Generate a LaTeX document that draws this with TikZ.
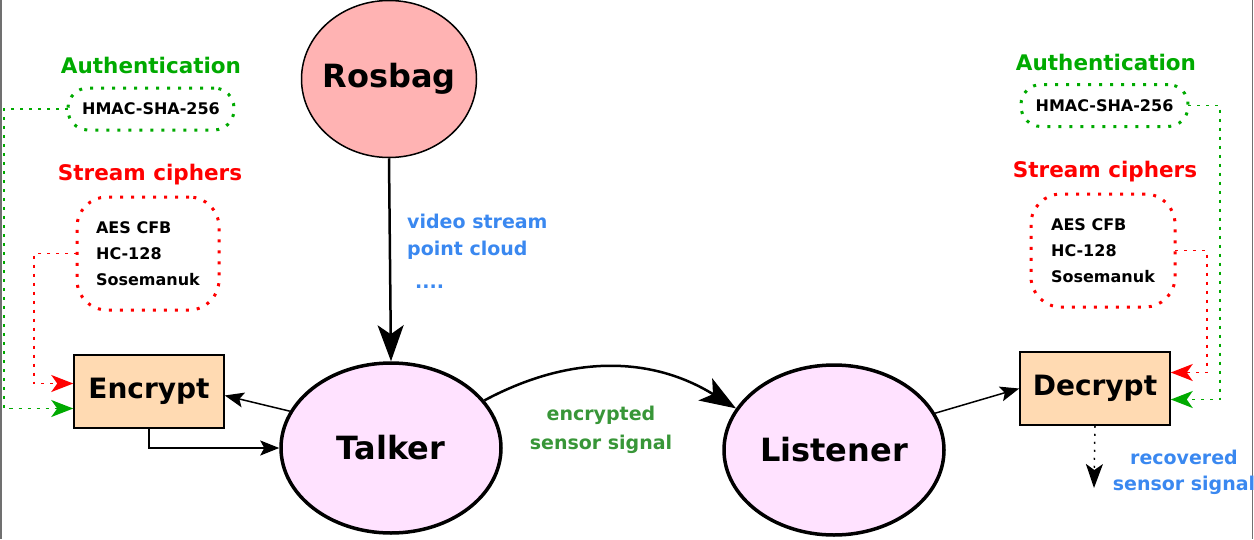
\documentclass[tikz,border=0pt]{standalone}
\usepackage{fontspec}
\setmainfont{DejaVu Sans}
\usetikzlibrary{calc,arrows.meta,shapes.geometric}

\definecolor{authgreen}{RGB}{0,170,0}
\definecolor{cipherred}{RGB}{255,0,0}
\definecolor{infoblue}{RGB}{58,136,240}
\definecolor{signalgreen}{RGB}{56,150,56}
\definecolor{bagpink}{RGB}{255,179,179}
\definecolor{nodepink}{RGB}{255,226,255}
\definecolor{boxpeach}{RGB}{255,218,178}
\definecolor{framegray}{RGB}{112,112,112}

\tikzset{
  rosnode/.style={ellipse,draw,line width=3.5pt,fill=nodepink,inner sep=0pt,
    minimum width=220pt,minimum height=170pt,font=\fontsize{32}{37}\selectfont\bfseries},
  cryptbox/.style={rectangle,draw,line width=1.5pt,fill=boxpeach,
    minimum width=150pt,minimum height=73pt,font=\fontsize{28}{32}\selectfont\bfseries},
  grouptitle/.style={font=\fontsize{21.5}{25}\selectfont\bfseries},
  dotbox/.style={rectangle,draw,line width=3pt,dash pattern=on 3pt off 8pt,outer sep=0pt,
    font=\fontsize{16}{19}\selectfont\bfseries},
  cipherbox/.style={dotbox,draw=cipherred,rounded corners=30pt,align=left,
    minimum height=113pt,font=\fontsize{16}{26}\selectfont\bfseries},
  authbox/.style={dotbox,draw=authgreen,rounded corners=20pt,minimum height=42pt},
  infotext/.style={text=infoblue,font=\fontsize{19}{29}\selectfont\bfseries},
  keyline/.style={line width=1.5pt,dash pattern=on 3pt off 6pt,
    -{Stealth[length=22pt,width=17pt,inset=6pt]}},
  thinarrow/.style={line width=1.5pt,-{Stealth[length=19pt,width=15pt,inset=4pt]}},
  thickarrow/.style={line width=2.5pt,-{Stealth[length=36pt,width=26pt,inset=9pt]}}
}

\begin{document}
\begin{tikzpicture}[x=1pt,y=1pt]
  \useasboundingbox (0,0) rectangle (1254,-539);
  \draw[framegray,line width=1.5pt] (0.75,0) -- (0.75,-539);
  \draw[framegray,line width=1.5pt] (1252.5,0) -- (1252.5,-539);

  % ROS nodes
  \node[rosnode,fill=bagpink,line width=1.5pt,inner xsep=-12pt,minimum width=175pt,minimum height=157pt] (rosbag) at (389,-79) {Rosbag};
  \node[rosnode] (talker) at (391,-448) {Talker};
  \node[rosnode] (listener) at (834,-450) {Listener};

  % crypto boxes
  \node[cryptbox] (encrypt) at (149,-391.5) {Encrypt};
  \node[cryptbox] (decrypt) at (1095,-388.5) {Decrypt};

  % left side
  \node[grouptitle,text=authgreen] (authL) at (151,-65) {Authentication};
  \node[authbox,minimum width=166pt] (hmacL) at (151,-109) {HMAC-SHA-256};
  \node[grouptitle,text=cipherred] (streamL) at (150,-175) {Stream ciphers};
  \node[cipherbox,minimum width=142pt] (ciphL) at (148,-253.5) {AES CFB\\HC-128\\Sosemanuk};

  % right side
  \node[grouptitle,text=authgreen] (authR) at (1106,-62) {Authentication};
  \node[authbox,minimum width=167pt] (hmacR) at (1104.5,-105.5) {HMAC-SHA-256};
  \node[grouptitle,text=cipherred] (streamR) at (1105,-172) {Stream ciphers};
  \node[cipherbox,minimum width=144pt] (ciphR) at (1103,-250.5) {AES CFB\\HC-128\\Sosemanuk};

  % labels
  \node[infotext,anchor=west,inner sep=0pt] (video) at (407,-221) {video stream};
  \node[infotext,anchor=west,inner sep=0pt] (cloud) at (407,-250) {point cloud};
  \node[infotext,anchor=west,inner sep=0pt] (more) at (415,-287) {....};
  \node[infotext,text=signalgreen,align=center] (signal) at (601,-429.5) {encrypted\\sensor signal};
  \node[infotext,align=center,font=\fontsize{19}{26}\selectfont\bfseries] (recovered) at (1184,-472) {recovered\\sensor signal};
  \coordinate (output) at (1094,-488);

  % data flow
  \draw[thickarrow] (rosbag.south) -- (talker.north);
  \draw[thickarrow] (talker.27) to[bend left=30] (listener.157);
  \draw[thinarrow] (talker.160) -- (encrypt.-3);
  \draw[thinarrow] (encrypt.south) |- (talker.west);
  \draw[thinarrow] (listener.20) -- (decrypt.west);
  \draw[line width=1.5pt,dash pattern=on 2pt off 6pt,-{Stealth[length=24pt,width=17pt,inset=6pt]}] (decrypt.south) -- (output);

  % keys
  \draw[keyline,authgreen] (hmacL.west) -- ++(-64,0) |- ($(encrypt.west)+(0,-17)$);
  \draw[keyline,cipherred] (ciphL.west) -- ++(-43,0) |- ($(encrypt.west)+(0,8)$);
  \draw[keyline,authgreen] (hmacR.east) -- ++(32,0) |- ($(decrypt.east)+(0,-11)$);
  \draw[keyline,cipherred] (ciphR.east) -- ++(32,0) |- ($(decrypt.east)+(0,16)$);
\end{tikzpicture}
\end{document}
